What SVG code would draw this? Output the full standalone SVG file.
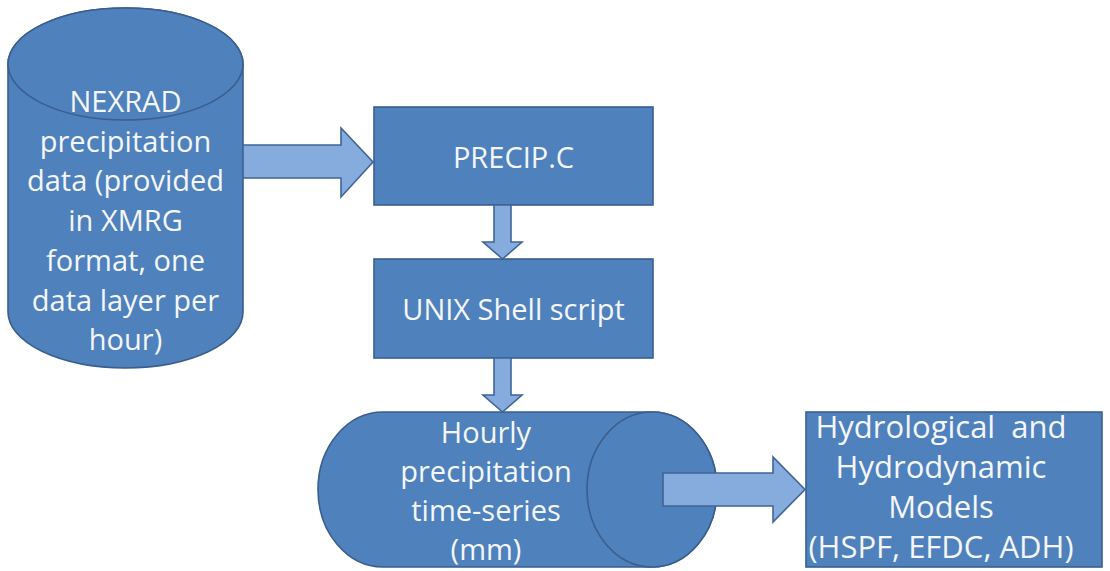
<svg xmlns="http://www.w3.org/2000/svg" width="1110" height="571" viewBox="0 0 1110 571">
<style>
.shape{fill:#4F81BD;stroke:#3A5E8E;stroke-width:1.6}
.arrow{fill:#86ACDE;stroke:#3F6497;stroke-width:1.6;stroke-linejoin:miter}
.t{font-family:"Open Sans","Liberation Sans",sans-serif;font-size:29px;fill:#F4F6FA;text-anchor:middle}
.tb{font-size:31px}
</style>
<rect width="1110" height="571" fill="#FFFFFF"/>
<g id="nexrad">
<path class="shape" d="M8,64 L8,312 A117.5,56 0 0 0 243,312 L243,64 A117.5,56 0 0 0 8,64 Z"/>
<ellipse class="shape" cx="125.5" cy="64" rx="117.5" ry="56"/>
<text class="t" x="125.5" y="112">NEXRAD</text>
<text class="t" x="125.5" y="151.7">precipitation</text>
<text class="t" x="125.5" y="191.4">data (provided</text>
<text class="t" x="125.5" y="231.1">in XMRG</text>
<text class="t" x="125.5" y="270.8">format, one</text>
<text class="t" x="125.5" y="310.5">data layer per</text>
<text class="t" x="125.5" y="350.2">hour)</text>
</g>
<g id="precip">
<rect class="shape" x="374" y="107" width="279" height="98"/>
<text class="t" x="513.5" y="168">PRECIP.C</text>
</g>
<g id="unix">
<rect class="shape" x="374" y="259" width="279" height="99"/>
<text class="t" x="513.5" y="320">UNIX Shell script</text>
</g>
<g id="hourly">
<path class="shape" d="M383,412 L652,412 A65,77.5 0 0 1 652,567 L383,567 A65,77.5 0 0 1 383,412 Z"/>
<ellipse class="shape" cx="652" cy="489.5" rx="65" ry="77.5"/>
<text class="t" x="486" y="443">Hourly</text>
<text class="t" x="486" y="482">precipitation</text>
<text class="t" x="486" y="521">time-series</text>
<text class="t" x="486" y="560">(mm)</text>
</g>
<g id="models">
<rect class="shape" x="806" y="412" width="296" height="155"/>
<text class="t tb" x="941" y="438" xml:space="preserve">Hydrological  and</text>
<text class="t tb" x="941" y="478">Hydrodynamic</text>
<text class="t tb" x="941" y="518">Models</text>
<text class="t tb" x="941" y="558">(HSPF, EFDC, ADH)</text>
</g>
<g id="connectors">
<polygon class="arrow" points="243,145 341,145 341,128 373,162 341,197 341,178 243,178"/>
<polygon class="arrow" points="494,205 511,205 511,242 522,242 502.5,259 483,242 494,242"/>
<polygon class="arrow" points="494,358 511,358 511,395 522,395 502.5,412 483,395 494,395"/>
<polygon class="arrow" points="663,473 773,473 773,457 805,489.5 773,522 773,506 663,506"/>
</g>
</svg>
